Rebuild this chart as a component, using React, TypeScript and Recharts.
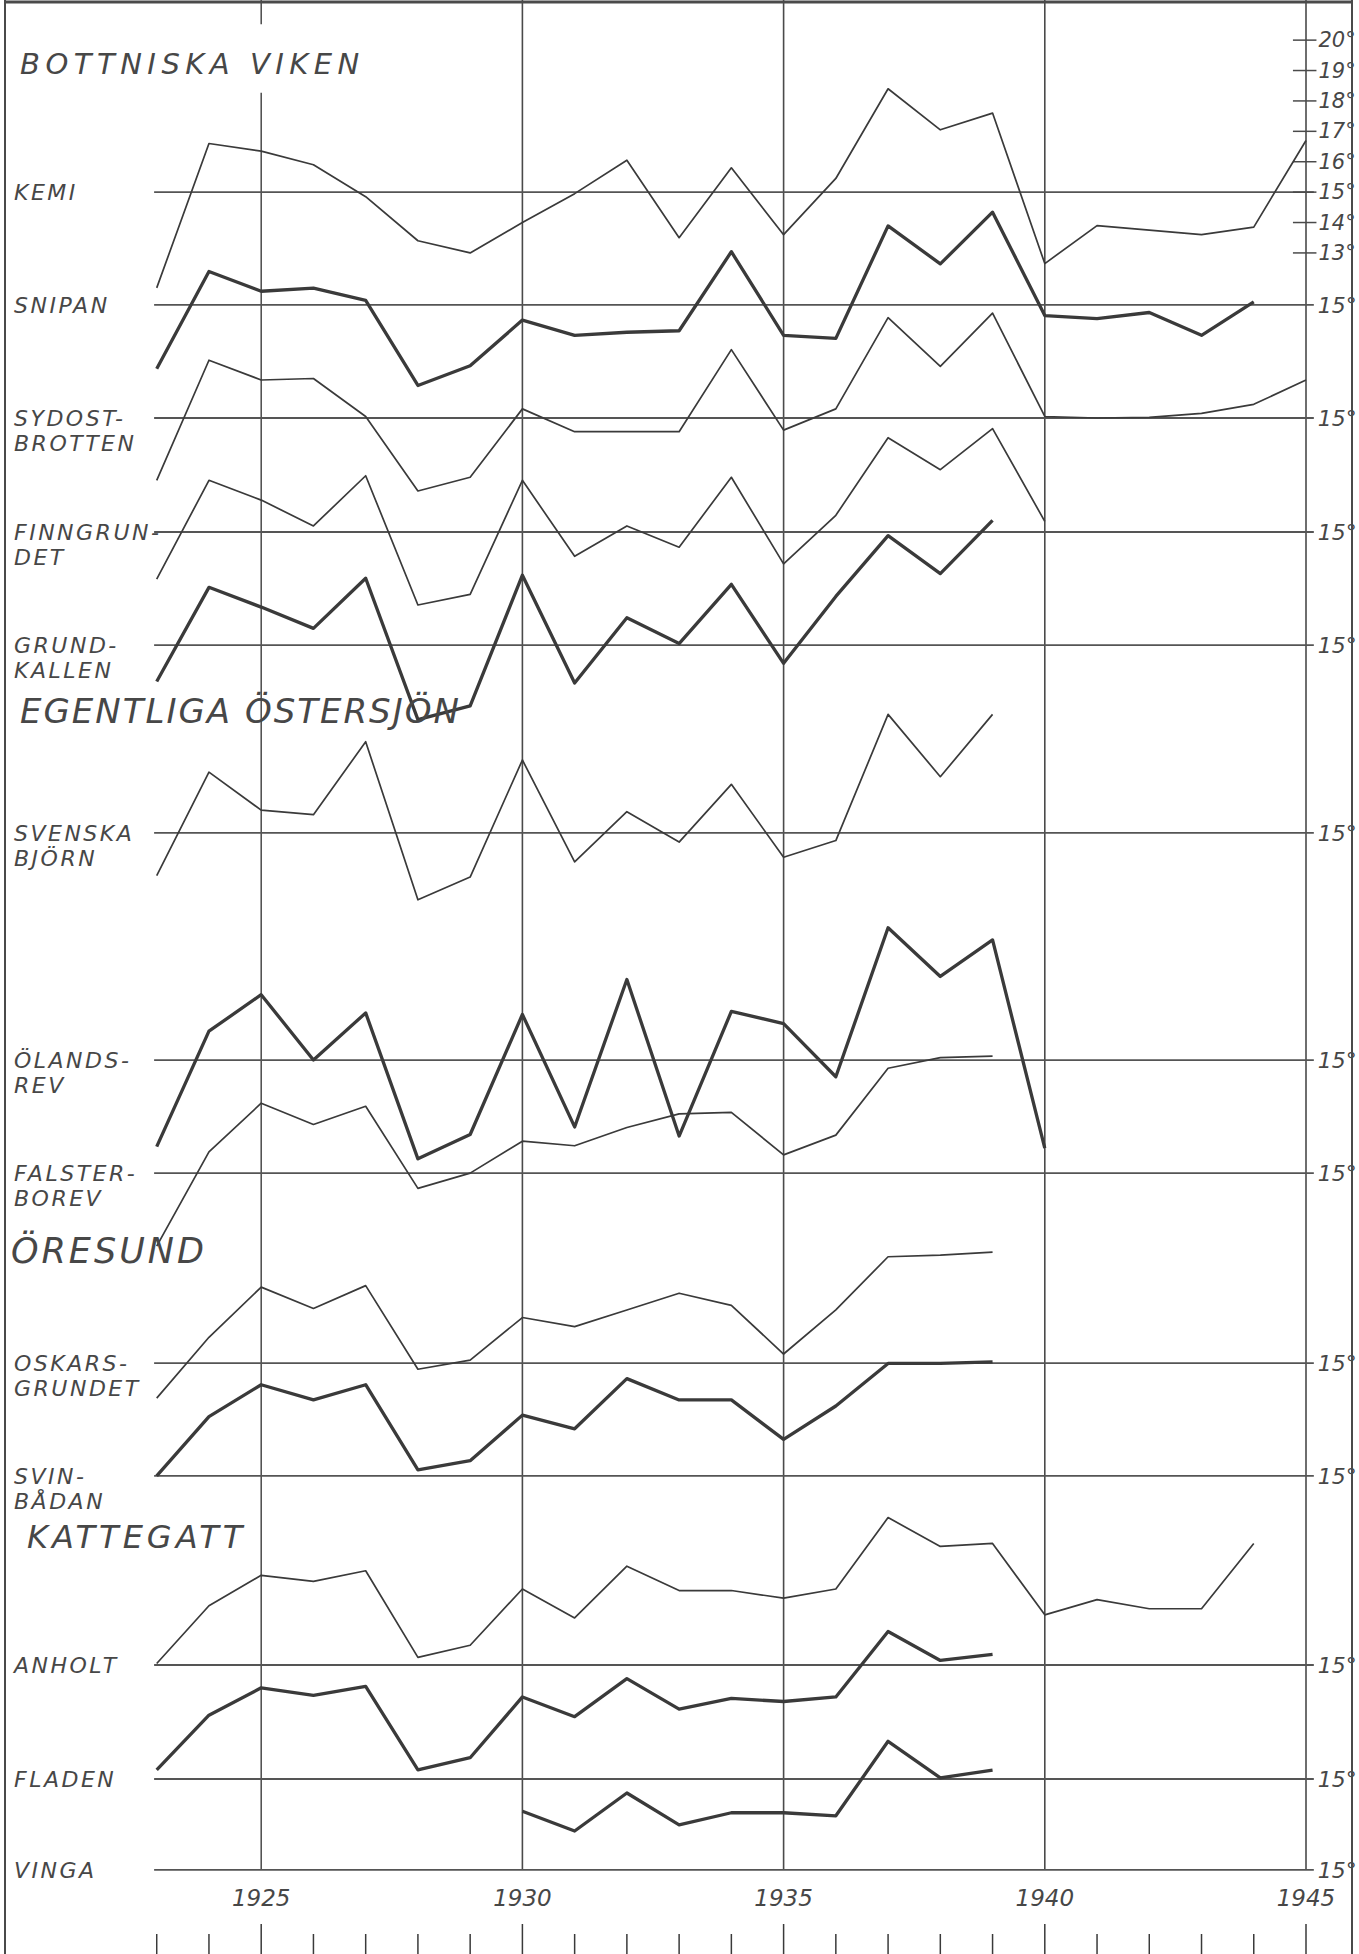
import React from "react";
import { LineChart, Line, XAxis, YAxis, ReferenceLine } from "recharts";

// Annual temperature (°C) per station. One value per year.
const YEARS = [
  1923, 1924, 1925, 1926, 1927, 1928, 1929, 1930, 1931, 1932, 1933, 1934,
  1935, 1936, 1937, 1938, 1939, 1940, 1941, 1942, 1943, 1944, 1945,
];

const KEMI = [11.85, 16.6, 16.35, 15.9, 14.85, 13.4, 13.0, 14.0, 14.95, 16.05, 13.5, 15.8, 13.6, 15.45, 18.4, 17.05, 17.6, 12.65, 13.9, 13.75, 13.6, 13.85, 16.7];
const SNIPAN = [12.9, 16.1, 15.45, 15.55, 15.15, 12.35, 13.0, 14.5, 14.0, 14.1, 14.15, 16.75, 14.0, 13.9, 17.6, 16.35, 18.05, 14.65, 14.55, 14.75, 14.0, 15.1, null];
const SYDOSTBROTTEN = [12.95, 16.9, 16.25, 16.3, 15.05, 12.6, 13.05, 15.3, 14.55, 14.55, 14.55, 17.25, 14.6, 15.3, 18.3, 16.7, 18.45, 15.05, 15.0, 15.02, 15.15, 15.45, 16.25];
const FINNGRUNDET = [13.45, 16.7, 16.05, 15.2, 16.85, 12.6, 12.95, 16.7, 14.2, 15.2, 14.5, 16.8, 13.95, 15.55, 18.1, 17.05, 18.4, 15.35, null, null, null, null, null];
const GRUNDKALLEN = [13.8, 16.9, 16.25, 15.55, 17.2, 12.55, 13.0, 17.3, 13.75, 15.9, 15.05, 17.0, 14.4, 16.6, 18.6, 17.35, 19.1, null, null, null, null, null, null];
const SVENSKA_BJORN = [13.6, 17.0, 15.75, 15.6, 18.0, 12.8, 13.55, 17.4, 14.05, 15.7, 14.7, 16.6, 14.2, 14.75, 18.9, 16.85, 18.9, null, null, null, null, null, null];
const OLANDSREV = [12.15, 15.95, 17.15, 15.0, 16.55, 11.75, 12.55, 16.5, 12.8, 17.65, 12.5, 16.6, 16.2, 14.45, 19.35, 17.75, 18.95, 12.1, null, null, null, null, null];
const FALSTERBOREV = [12.6, 15.7, 17.3, 16.6, 17.2, 14.5, 15.0, 16.05, 15.9, 16.5, 16.95, 17.0, 15.6, 16.25, 18.45, 18.8, 18.85, null, null, null, null, null, null];
const OSKARSGRUNDET = [13.85, 15.85, 17.5, 16.8, 17.55, 14.8, 15.1, 16.5, 16.2, 16.75, 17.3, 16.9, 15.3, 16.75, 18.5, 18.55, 18.65, null, null, null, null, null, null];
const SVINBADAN = [15.0, 16.95, 18.0, 17.5, 18.0, 15.2, 15.5, 17.0, 16.55, 18.2, 17.5, 17.5, 16.2, 17.3, 18.7, 18.7, 18.75, null, null, null, null, null, null];
const ANHOLT = [15.05, 16.95, 17.95, 17.75, 18.1, 15.25, 15.65, 17.5, 16.55, 18.25, 17.45, 17.45, 17.2, 17.5, 19.85, 18.9, 19.0, 16.65, 17.15, 16.85, 16.85, 19.0, null];
const FLADEN = [15.3, 17.1, 18.0, 17.75, 18.05, 15.3, 15.7, 17.7, 17.05, 18.3, 17.3, 17.65, 17.55, 17.7, 19.85, 18.9, 19.1, null, null, null, null, null, null];
const VINGA = [null, null, null, null, null, null, null, 16.93, 16.28, 17.53, 16.48, 16.88, 16.88, 16.78, 19.23, 18.03, 18.28, null, null, null, null, null, null];

// temperature scale printed next to Kemi
const SCALE_TICKS = [13, 14, 15, 16, 17, 18, 19, 20];

const REGIONS = ["BOTTNISKA VIKEN", "EGENTLIGA ÖSTERSJÖN", "ÖRESUND", "KATTEGATT"];

type Station = {
  key: string;
  lines: string[];
  values: (number | null)[];
  thick: boolean;
  scale?: boolean;
};

const STATIONS: Station[] = [
  { key: "kemi", lines: ["KEMI"], values: KEMI, thick: false, scale: true },
  { key: "snipan", lines: ["SNIPAN"], values: SNIPAN, thick: true },
  { key: "sydost", lines: ["SYDOST-", "BROTTEN"], values: SYDOSTBROTTEN, thick: false },
  { key: "finngrundet", lines: ["FINNGRUN-", "DET"], values: FINNGRUNDET, thick: false },
  { key: "grundkallen", lines: ["GRUND-", "KALLEN"], values: GRUNDKALLEN, thick: true },
  { key: "svenska", lines: ["SVENSKA", "BJÖRN"], values: SVENSKA_BJORN, thick: false },
  { key: "olandsrev", lines: ["ÖLANDS-", "REV"], values: OLANDSREV, thick: true },
  { key: "falsterbo", lines: ["FALSTER-", "BOREV"], values: FALSTERBOREV, thick: false },
  { key: "oskars", lines: ["OSKARS-", "GRUNDET"], values: OSKARSGRUNDET, thick: false },
  { key: "svin", lines: ["SVIN-", "BÅDAN"], values: SVINBADAN, thick: true },
  { key: "anholt", lines: ["ANHOLT"], values: ANHOLT, thick: false },
  { key: "fladen", lines: ["FLADEN"], values: FLADEN, thick: true },
  { key: "vinga", lines: ["VINGA"], values: VINGA, thick: true },
];

// layout: where each station's 15° line sits, in degrees counted down from the top
const ROW_OFFSETS: Record<string, number> = {
  kemi: 6.32,
  snipan: 10.03,
  sydost: 13.75,
  finngrundet: 17.5,
  grundkallen: 21.22,
  svenska: 27.4,
  olandsrev: 34.87,
  falsterbo: 38.59,
  oskars: 44.84,
  svin: 48.55,
  anholt: 54.77,
  fladen: 58.52,
  vinga: 61.51,
};

const W = 1359;
const H = 1954;
const AXIS_H = 84;
const PX_PER_DEG = 30.4;
const Y_MAX = (H - AXIS_H) / PX_PER_DEG;

const FONT = "'DejaVu Sans', 'Liberation Sans', sans-serif";
const INK = "#3a3a3a";
const GRID = "#4a4a4a";
const TEXT = "#474747";

const rows = YEARS.map((year, i) => {
  const row: Record<string, number | null> = { year };
  STATIONS.forEach((s) => {
    const t = s.values[i];
    row[s.key] = t == null ? null : ROW_OFFSETS[s.key] - (t - 15);
  });
  return row;
});

function YearTick(props: any) {
  const { x, y, payload } = props;
  const year = payload.value as number;
  const major = year % 5 === 0;
  return (
    <g>
      {major && (
        <text x={x} y={y + 36} textAnchor="middle" fontSize={23} fontStyle="italic" fontFamily={FONT} fill={TEXT}>
          {year}
        </text>
      )}
      <line x1={x} x2={x} y1={y + (major ? 54 : 64)} y2={y + AXIS_H} stroke={INK} strokeWidth={1.5} />
    </g>
  );
}

const stationLabel = (s: Station) => (props: any) => {
  const vb = props.viewBox;
  if (!vb) return null;
  return (
    <g fontFamily={FONT} fontStyle="italic" fill={TEXT}>
      {s.lines.map((line, j) => (
        <text key={j} x={14} y={vb.y + (j === 0 ? 8 : 33)} fontSize={22} letterSpacing={2.5}>
          {line}
        </text>
      ))}
      {!s.scale && (
        <text x={vb.x + vb.width + 4} y={vb.y + 8} fontSize={22}>
          15°
        </text>
      )}
    </g>
  );
};

const scaleLabel = (t: number) => (props: any) => {
  const vb = props.viewBox;
  if (!vb) return null;
  return (
    <text x={vb.x + vb.width + 2} y={vb.y + 7} fontSize={21} fontStyle="italic" fontFamily={FONT} fill={TEXT}>
      {t}°
    </text>
  );
};

export default function App() {
  return (
    <div style={{ position: "relative", width: W, height: H, background: "#fff" }}>
      <style>{"body{margin:0;background:#fff}"}</style>
      <LineChart width={W} height={H} data={rows} margin={{ top: 0, right: 53, bottom: 0, left: 0 }}>
        <XAxis
          dataKey="year"
          type="number"
          domain={[1920, 1945]}
          ticks={YEARS}
          interval={0}
          height={AXIS_H}
          axisLine={false}
          tickLine={false}
          tickSize={0}
          tickMargin={0}
          tick={(p: any) => <YearTick {...p} />}
        />
        <YAxis type="number" domain={[0, Y_MAX]} reversed hide allowDataOverflow />

        {/* 1925 line is broken around the region title */}
        <ReferenceLine segment={[{ x: 1925, y: 0 }, { x: 1925, y: 0.8 }]} stroke={GRID} strokeWidth={1.5} ifOverflow="visible" />
        <ReferenceLine segment={[{ x: 1925, y: 3.05 }, { x: 1925, y: Y_MAX }]} stroke={GRID} strokeWidth={1.5} ifOverflow="visible" />
        {[1930, 1935, 1940, 1945].map((x) => (
          <ReferenceLine key={x} x={x} stroke={GRID} strokeWidth={1.6} ifOverflow="visible" />
        ))}

        {STATIONS.map((s) => (
          <ReferenceLine
            key={"base-" + s.key}
            segment={[
              { x: 1922.95, y: ROW_OFFSETS[s.key] },
              { x: 1945.15, y: ROW_OFFSETS[s.key] },
            ]}
            stroke="#555"
            strokeWidth={1.8}
            ifOverflow="visible"
            label={stationLabel(s)}
          />
        ))}

        {SCALE_TICKS.map((t) => (
          <ReferenceLine
            key={"scale-" + t}
            segment={[
              { x: 1944.75, y: ROW_OFFSETS.kemi - (t - 15) },
              { x: 1945.2, y: ROW_OFFSETS.kemi - (t - 15) },
            ]}
            stroke={GRID}
            strokeWidth={1.5}
            ifOverflow="visible"
            label={scaleLabel(t)}
          />
        ))}

        {STATIONS.map((s) => (
          <Line
            key={s.key}
            type="linear"
            dataKey={s.key}
            stroke={INK}
            strokeWidth={s.thick ? 3.3 : 1.7}
            strokeLinejoin="round"
            dot={false}
            activeDot={false}
            isAnimationActive={false}
          />
        ))}
      </LineChart>

      <svg
        width={W}
        height={H}
        style={{ position: "absolute", left: 0, top: 0, pointerEvents: "none" }}
      >
        <line x1={5} x2={5} y1={0} y2={H} stroke={GRID} strokeWidth={2} />
        <line x1={1352} x2={1352} y1={0} y2={H} stroke={GRID} strokeWidth={2} />
        <line x1={5} x2={1352} y1={2} y2={2} stroke={GRID} strokeWidth={3} />
        <g fontFamily={FONT} fontStyle="italic" fill={TEXT}>
          <text x={20} y={74} fontSize={29} letterSpacing={5.5}>{REGIONS[0]}</text>
          <text x={20} y={723} fontSize={34} letterSpacing={2}>{REGIONS[1]}</text>
          <text x={11} y={1263} fontSize={35} letterSpacing={3}>{REGIONS[2]}</text>
          <text x={27} y={1548} fontSize={32} letterSpacing={4}>{REGIONS[3]}</text>
        </g>
      </svg>
    </div>
  );
}
